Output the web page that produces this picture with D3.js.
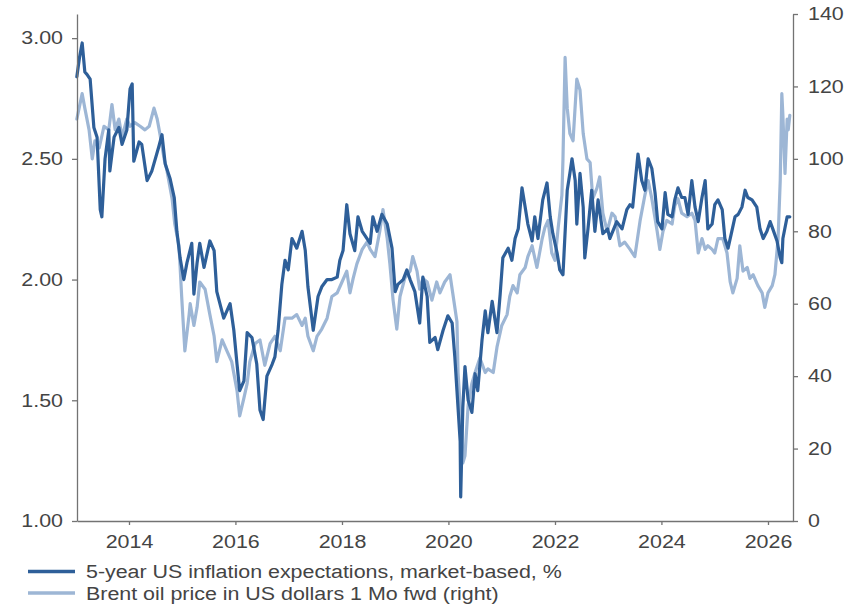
<!DOCTYPE html>
<html>
<head>
<meta charset="utf-8">
<script src="https://cdn.jsdelivr.net/npm/d3@7"></script>
<style>
  html, body { margin: 0; padding: 0; background: #fff; }
  svg { display: block; }
  text { font-family: "Liberation Sans", Arial, sans-serif; fill: #444; }
  .sx-right { transform-box: fill-box; transform-origin: 100% 50%; transform: scaleX(1.19); }
  .sx-left { transform-box: fill-box; transform-origin: 0% 50%; transform: scaleX(1.19); }
  .sx-mid { transform-box: fill-box; transform-origin: 50% 50%; transform: scaleX(1.19); }
</style>
</head>
<body>
<svg id="chart" width="860" height="616"></svg>
<script>
// ---- data (decimal years) ----
const inflYears = [2013.02,2013.07,2013.12,2013.17,2013.21,2013.27,2013.34,2013.40,2013.46,2013.49,2013.55,2013.62,2013.64,2013.72,2013.81,2013.87,2013.96,2014.02,2014.06,2014.09,2014.19,2014.24,2014.34,2014.43,2014.56,2014.62,2014.68,2014.77,2014.85,2014.90,2014.96,2015.03,2015.09,2015.18,2015.22,2015.28,2015.33,2015.41,2015.52,2015.60,2015.65,2015.78,2015.90,2015.97,2016.03,2016.08,2016.16,2016.22,2016.31,2016.40,2016.46,2016.52,2016.59,2016.69,2016.74,2016.80,2016.87,2016.93,2016.99,2017.06,2017.15,2017.25,2017.31,2017.36,2017.46,2017.55,2017.62,2017.72,2017.81,2017.91,2017.96,2018.02,2018.09,2018.15,2018.24,2018.30,2018.38,2018.47,2018.53,2018.58,2018.66,2018.75,2018.85,2018.94,2019.00,2019.05,2019.15,2019.22,2019.28,2019.37,2019.46,2019.52,2019.60,2019.65,2019.75,2019.80,2019.90,2019.99,2020.07,2020.12,2020.16,2020.22,2020.23,2020.27,2020.31,2020.37,2020.44,2020.50,2020.55,2020.63,2020.69,2020.74,2020.82,2020.91,2020.97,2021.02,2021.12,2021.19,2021.25,2021.31,2021.38,2021.44,2021.49,2021.57,2021.62,2021.68,2021.77,2021.85,2021.91,2021.96,2022.04,2022.09,2022.15,2022.23,2022.28,2022.32,2022.38,2022.41,2022.47,2022.53,2022.56,2022.62,2022.69,2022.75,2022.81,2022.90,2022.99,2023.03,2023.16,2023.26,2023.35,2023.41,2023.46,2023.56,2023.63,2023.69,2023.75,2023.82,2023.88,2023.93,2024.01,2024.07,2024.12,2024.20,2024.25,2024.31,2024.38,2024.44,2024.50,2024.57,2024.63,2024.69,2024.76,2024.82,2024.87,2024.95,2025.00,2025.06,2025.14,2025.19,2025.25,2025.32,2025.38,2025.44,2025.51,2025.57,2025.62,2025.70,2025.79,2025.85,2025.91,2025.98,2026.04,2026.09,2026.17,2026.23,2026.26,2026.28,2026.36,2026.41];
const inflValues = [2.84,2.92,2.98,2.86,2.85,2.83,2.63,2.59,2.29,2.26,2.50,2.62,2.45,2.59,2.63,2.56,2.62,2.79,2.81,2.49,2.57,2.56,2.41,2.45,2.55,2.60,2.48,2.42,2.34,2.20,2.09,2.00,2.07,2.15,1.94,2.07,2.15,2.05,2.16,2.12,1.95,1.84,1.90,1.79,1.65,1.54,1.58,1.78,1.76,1.65,1.46,1.42,1.60,1.65,1.68,1.79,1.98,2.08,2.04,2.17,2.13,2.20,2.12,1.97,1.79,1.93,1.97,2.00,2.00,2.01,2.08,2.12,2.31,2.19,2.12,2.26,2.20,2.17,2.15,2.26,2.20,2.27,2.23,2.13,1.95,1.98,2.00,2.04,2.00,1.95,1.82,2.01,1.93,1.74,1.76,1.71,1.79,1.85,1.82,1.68,1.54,1.33,1.10,1.47,1.64,1.50,1.45,1.61,1.54,1.75,1.87,1.78,1.91,1.78,1.94,2.09,2.13,2.08,2.17,2.21,2.38,2.30,2.23,2.16,2.26,2.17,2.33,2.40,2.26,2.19,2.11,2.04,2.02,2.37,2.44,2.50,2.41,2.23,2.44,2.30,2.09,2.21,2.37,2.20,2.33,2.19,2.21,2.17,2.24,2.21,2.29,2.31,2.30,2.52,2.41,2.37,2.50,2.46,2.36,2.24,2.21,2.36,2.27,2.26,2.33,2.38,2.34,2.34,2.27,2.41,2.30,2.24,2.34,2.41,2.21,2.23,2.31,2.33,2.29,2.17,2.13,2.20,2.26,2.27,2.30,2.37,2.34,2.33,2.30,2.21,2.17,2.20,2.24,2.21,2.16,2.09,2.07,2.17,2.26,2.26];

const brentYears = [2013.02,2013.12,2013.17,2013.25,2013.31,2013.36,2013.44,2013.53,2013.62,2013.68,2013.74,2013.81,2013.87,2013.96,2014.02,2014.11,2014.21,2014.30,2014.38,2014.47,2014.53,2014.58,2014.66,2014.71,2014.81,2014.86,2014.94,2014.99,2015.05,2015.13,2015.15,2015.22,2015.28,2015.33,2015.43,2015.52,2015.60,2015.65,2015.75,2015.84,2015.93,2016.03,2016.08,2016.16,2016.22,2016.27,2016.37,2016.46,2016.55,2016.65,2016.74,2016.84,2016.93,2017.06,2017.15,2017.25,2017.31,2017.36,2017.46,2017.53,2017.62,2017.72,2017.81,2017.91,2018.00,2018.09,2018.15,2018.21,2018.28,2018.38,2018.47,2018.53,2018.62,2018.71,2018.77,2018.85,2018.90,2018.96,2019.03,2019.09,2019.18,2019.28,2019.33,2019.41,2019.46,2019.52,2019.60,2019.69,2019.78,2019.84,2019.93,2020.03,2020.08,2020.16,2020.18,2020.25,2020.27,2020.31,2020.37,2020.44,2020.50,2020.59,2020.69,2020.74,2020.84,2020.91,2021.00,2021.10,2021.15,2021.21,2021.29,2021.34,2021.44,2021.49,2021.57,2021.66,2021.76,2021.81,2021.87,2021.94,2022.00,2022.06,2022.13,2022.15,2022.19,2022.23,2022.28,2022.34,2022.41,2022.47,2022.53,2022.60,2022.66,2022.71,2022.79,2022.84,2022.90,2022.98,2023.07,2023.13,2023.22,2023.31,2023.41,2023.50,2023.60,2023.69,2023.75,2023.82,2023.92,2023.97,2024.03,2024.10,2024.20,2024.25,2024.31,2024.38,2024.48,2024.57,2024.63,2024.69,2024.76,2024.82,2024.87,2024.95,2025.00,2025.06,2025.15,2025.23,2025.29,2025.34,2025.42,2025.47,2025.53,2025.61,2025.66,2025.72,2025.81,2025.89,2025.94,2026.00,2026.08,2026.13,2026.19,2026.23,2026.26,2026.28,2026.32,2026.36,2026.38,2026.41];
const brentValues = [111,118,114,108,100,105,103,109,108,115,108,111,106,111,109,110,109,108,109,114,111,107,100,97,89,82,76,62,47,57,60,54,59,66,64,57,51,44,50,47,44,36,29,34,38,44,49,50,43,49,51,47,56,56,57,54,56,51,47,51,53,56,62,63,66,69,63,67,71,75,77,75,73,80,86,78,71,61,53,62,67,69,73,69,64,67,66,61,66,63,66,68,63,55,41,25,16,18,32,38,41,45,41,42,41,48,54,57,62,65,63,68,70,73,76,70,78,81,83,74,72,81,90,100,128,114,107,105,122,119,107,100,99,89,92,95,85,80,85,84,76,77,75,73,83,90,94,89,80,75,80,83,82,87,89,85,84,85,83,74,78,75,76,75,74,78,78,74,66,63,67,76,69,70,67,68,65,63,59,63,65,68,78,94,118,112,96,111,108,112];

const leftTicks = [1.00, 1.50, 2.00, 2.50, 3.00];
const rightTicks = [0, 20, 40, 60, 80, 100, 120, 140];
const xTickYears = [2014, 2016, 2018, 2020, 2022, 2024, 2026];
const seriesNames = ["5-year US inflation expectations, market-based, %", "Brent oil price in US dollars 1 Mo fwd (right)"];
const seriesColors = ["#2e5f99", "#9db6d5"];

// ---- helpers ----
function toDate(y) {
  const yr = Math.floor(y);
  const start = new Date(yr, 0, 1), end = new Date(yr + 1, 0, 1);
  return new Date(start.getTime() + (y - yr) * (end - start));
}

const svg = d3.select("#chart");
const L = 77, R = 793, T = 14, B = 521;

const x = d3.scaleTime().domain([toDate(2013.023), toDate(2026.47)]).range([L, R]);
const yL = d3.scaleLinear().domain([1, 3.1]).range([B, T]);
const yR = d3.scaleLinear().domain([0, 140]).range([B, T]);

const infl = inflYears.map((d, i) => ({ date: toDate(d), v: inflValues[i] }));
const brent = brentYears.map((d, i) => ({ date: toDate(d), v: brentValues[i] }));

// lines
const lineR = d3.line().x(d => x(d.date)).y(d => yR(d.v));
const lineL = d3.line().x(d => x(d.date)).y(d => yL(d.v));

svg.append("path").datum(brent)
  .attr("d", lineR).attr("fill", "none")
  .attr("stroke", seriesColors[1]).attr("stroke-width", 3.2)
  .attr("stroke-linejoin", "round").attr("stroke-linecap", "round");
svg.append("path").datum(infl)
  .attr("d", lineL).attr("fill", "none")
  .attr("stroke", seriesColors[0]).attr("stroke-width", 3.2)
  .attr("stroke-linejoin", "round").attr("stroke-linecap", "round");

// axes
const axisColor = "#737373";
function styleAxis(g, cls) {
  g.selectAll(".domain").attr("stroke", axisColor).attr("stroke-width", 1.3);
  g.selectAll(".tick line").attr("stroke", axisColor).attr("stroke-width", 1.3);
  g.selectAll(".tick text").attr("fill", "#444").attr("class", cls)
    .style("font-size", "18px")
    .style("font-family", '"Liberation Sans", Arial, sans-serif');
}

const gL = svg.append("g").attr("transform", `translate(${L},0)`)
  .call(d3.axisLeft(yL).tickValues(leftTicks).tickFormat(d3.format(".2f"))
    .tickSize(5).tickSizeOuter(0).tickPadding(9));
styleAxis(gL, "sx-right");

const gR = svg.append("g").attr("transform", `translate(${R},0)`)
  .call(d3.axisRight(yR).tickValues(rightTicks).tickFormat(d3.format("d"))
    .tickSize(5).tickSizeOuter(0).tickPadding(10));
styleAxis(gR, "sx-left");

const gX = svg.append("g").attr("transform", `translate(0,${B})`)
  .call(d3.axisBottom(x).tickValues(xTickYears.map(y => new Date(y, 0, 1)))
    .tickFormat(d3.timeFormat("%Y")).tickSize(4).tickSizeOuter(0).tickPadding(10));
styleAxis(gX, "sx-mid");

// legend
const legend = svg.append("g");
seriesNames.forEach((name, i) => {
  const ly = 571.5 + i * 21.5;
  legend.append("line").attr("x1", 28).attr("x2", 75).attr("y1", ly).attr("y2", ly)
    .attr("stroke", seriesColors[i]).attr("stroke-width", 3.5);
  legend.append("text").attr("x", 86).attr("y", ly + 7).attr("class", "sx-left")
    .style("font-size", "18px").text(name);
});
</script>
</body>
</html>
